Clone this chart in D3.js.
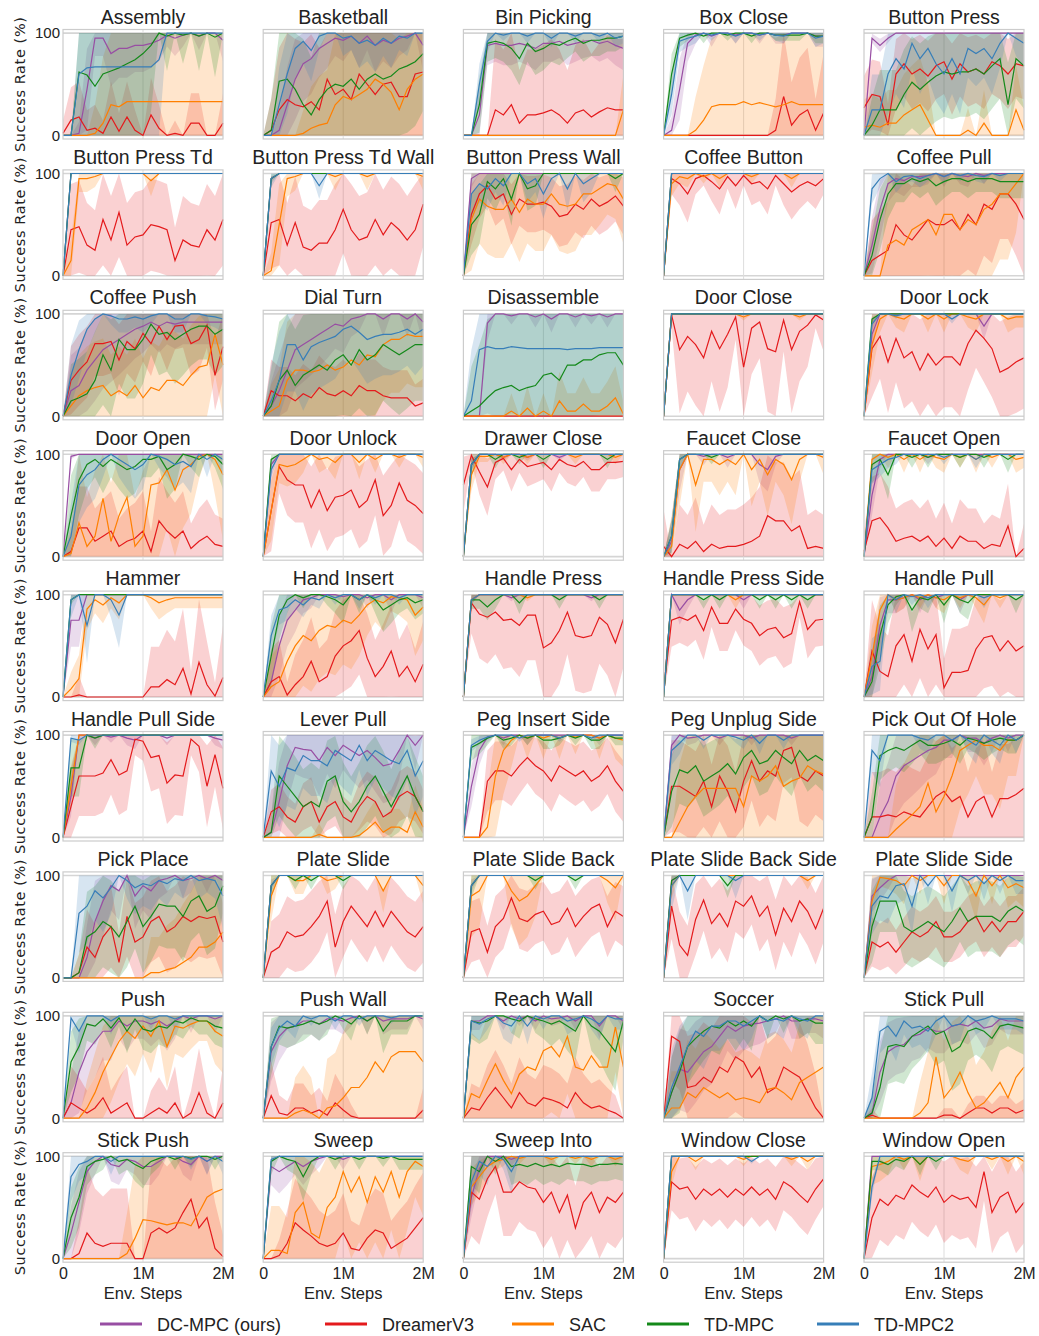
<!DOCTYPE html>
<html>
<head>
<meta charset="utf-8">
<script src="https://cdn.jsdelivr.net/npm/d3@7"></script>
<style>
  body { margin: 0; background: #fff; }
  svg text { font-family: "Liberation Sans", Arial, sans-serif; fill: #222; }
</style>
</head>
<body>
<svg id="chart" width="1039" height="1336"></svg>
<script>
// Meta-World success rates (%), evaluated every 100K env. steps (0 .. 2M)
const tasks = ["Assembly", "Basketball", "Bin Picking", "Box Close", "Button Press",
  "Button Press Td", "Button Press Td Wall", "Button Press Wall", "Coffee Button", "Coffee Pull",
  "Coffee Push", "Dial Turn", "Disassemble", "Door Close", "Door Lock",
  "Door Open", "Door Unlock", "Drawer Close", "Faucet Close", "Faucet Open",
  "Hammer", "Hand Insert", "Handle Press", "Handle Press Side", "Handle Pull",
  "Handle Pull Side", "Lever Pull", "Peg Insert Side", "Peg Unplug Side", "Pick Out Of Hole",
  "Pick Place", "Plate Slide", "Plate Slide Back", "Plate Slide Back Side", "Plate Slide Side",
  "Push", "Push Wall", "Reach Wall", "Soccer", "Stick Pull",
  "Stick Push", "Sweep", "Sweep Into", "Window Close", "Window Open"];

const stepsM = [0, 0.1, 0.2, 0.3, 0.4, 0.5, 0.6, 0.7, 0.8, 0.9, 1.0, 1.1, 1.2, 1.3, 1.4, 1.5, 1.6, 1.7, 1.8, 1.9, 2.0];

const dcmpc = [
  [0,0,2,45,95,95,80,85,85,88,88,90,93,98,95,98,100,97,100,100,93],
  [0,0,5,30,55,70,75,85,90,95,93,97,90,97,88,93,90,95,97,100,88],
  [0,0,20,88,90,88,88,90,88,85,90,90,92,88,90,92,93,90,92,88,85],
  [0,5,45,90,98,100,97,100,100,98,100,100,98,100,98,98,100,100,100,97,97],
  [0,95,88,95,100,100,100,100,100,100,100,100,100,100,100,100,100,100,100,100,100],
  [0,100,100,100,100,100,100,100,100,100,100,100,100,100,100,100,100,100,100,100,100],
  [0,95,100,100,100,100,100,100,100,100,100,100,100,100,100,100,100,100,100,100,100],
  [0,95,100,100,100,100,100,100,100,100,100,100,100,100,100,100,100,100,100,100,100],
  [0,100,100,100,100,100,100,100,100,100,100,100,100,100,100,100,100,100,100,100,100],
  [0,30,65,90,95,93,97,97,98,100,97,100,98,97,100,98,100,100,100,100,100],
  [0,25,30,45,55,65,70,75,80,85,88,92,88,92,90,92,92,92,92,92,92],
  [0,10,25,45,65,70,75,80,85,90,88,95,97,100,100,95,100,100,95,100,92],
  [0,0,0,91,100,100,98,100,100,97,100,95,100,100,97,100,98,100,97,100,100],
  [0,100,100,100,100,100,100,100,100,100,100,100,100,100,100,100,100,100,100,100,100],
  [0,80,100,100,100,100,100,100,100,100,100,100,100,100,100,88,100,100,100,100,100],
  [0,98,100,100,100,100,100,100,100,100,100,100,100,100,100,100,100,100,100,100,100],
  [0,90,100,100,100,100,100,100,100,100,100,100,100,100,100,100,100,100,100,100,100],
  [0,90,100,100,100,97,100,100,97,100,100,100,97,100,100,100,100,100,100,100,100],
  [0,15,85,100,100,98,100,100,97,100,100,100,90,85,98,100,100,100,100,100,100],
  [0,60,95,100,100,100,100,100,97,100,100,100,100,100,100,100,100,100,100,100,100],
  [0,75,75,100,100,100,100,100,100,100,100,100,100,100,100,100,100,100,100,100,100],
  [0,15,50,75,85,95,97,100,100,100,98,100,100,97,100,100,95,100,100,100,97],
  [0,95,100,100,100,100,97,100,100,100,100,100,100,100,100,100,97,100,100,100,100],
  [0,100,85,95,100,100,100,100,100,100,95,100,100,100,100,100,100,100,100,100,100],
  [0,20,70,95,95,97,100,95,100,97,100,100,95,100,100,100,100,100,100,100,100],
  [0,40,100,100,97,100,98,100,97,95,100,100,100,97,100,100,100,100,100,97,95],
  [0,5,35,70,88,86,85,75,88,80,90,85,80,85,78,70,72,85,100,90,100],
  [0,50,85,98,100,97,100,100,97,100,100,100,100,100,100,100,100,97,100,100,100],
  [0,90,100,97,98,100,100,97,100,100,100,97,100,100,100,100,97,100,100,100,100],
  [0,0,20,35,60,70,75,80,85,88,95,95,100,97,97,92,97,100,97,100,100],
  [0,0,0,20,55,75,90,85,100,80,90,85,95,97,100,95,97,100,97,100,95],
  [0,90,100,100,100,100,100,100,100,100,100,100,100,100,100,100,100,100,100,100,100],
  [0,90,100,100,100,100,100,100,100,100,100,100,100,100,100,100,100,100,100,100,100],
  [0,95,100,100,100,100,100,100,100,100,100,100,100,100,100,100,100,100,100,100,100],
  [0,80,88,95,100,100,100,100,100,100,100,100,100,100,100,100,100,100,100,100,100],
  [0,15,45,65,75,85,85,95,90,95,95,92,95,90,95,100,97,100,100,97,100],
  [0,65,80,88,90,95,95,92,97,97,95,98,100,95,100,95,97,97,97,100,97],
  [0,95,95,100,100,95,100,97,100,95,100,97,98,100,95,100,100,90,100,100,95],
  [0,25,48,45,55,65,70,80,90,85,90,92,93,95,97,100,95,95,97,97,95],
  [0,5,45,65,70,72,80,82,88,85,85,90,92,90,95,88,90,97,95,95,95],
  [0,25,55,85,95,100,92,90,97,95,90,90,95,100,100,95,92,100,95,100,100],
  [0,90,85,90,95,90,95,98,100,100,97,100,100,100,100,100,100,100,100,100,100],
  [0,60,88,100,100,100,97,100,100,100,100,100,100,100,100,100,100,100,100,100,100],
  [0,100,100,100,100,100,100,100,100,100,100,100,100,100,100,100,100,100,100,100,100],
  [0,100,100,100,100,100,100,100,100,100,100,100,100,100,100,100,100,100,100,100,100]
];

const dreamer = [
  [2,15,18,5,7,2,18,4,18,5,0,20,7,0,2,0,12,12,0,0,12],
  [0,5,25,35,30,28,33,25,55,40,45,35,60,50,40,50,52,38,38,60,62],
  [0,0,0,0,25,20,30,12,20,20,22,25,20,12,22,25,18,23,27,25,25],
  [0,0,0,0,0,0,0,0,0,0,0,0,0,0,5,38,10,20,25,5,22],
  [27,40,38,10,60,70,60,65,58,68,72,55,70,62,65,60,72,68,60,70,68],
  [0,45,48,30,25,55,35,62,30,38,40,50,48,45,15,35,30,28,45,35,55],
  [0,52,55,30,52,28,25,32,32,45,65,45,35,38,55,40,52,45,35,45,70],
  [0,60,80,88,75,80,60,75,70,70,72,68,58,60,70,65,75,68,72,78,68],
  [0,95,90,80,95,98,92,85,97,88,98,90,92,85,98,90,82,88,92,88,95],
  [0,15,20,25,50,40,35,45,55,50,50,55,45,60,50,70,65,80,80,70,55],
  [0,35,45,53,71,71,73,55,73,66,81,71,88,75,88,89,71,75,89,40,68],
  [0,25,20,20,15,22,18,28,22,20,25,20,30,25,25,20,18,18,18,10,13],
  [0,0,0,0,0,0,0,0,0,0,0,0,0,0,0,0,0,0,0,0,0],
  [0,99,65,78,70,57,83,66,80,97,48,86,92,66,63,94,65,83,89,99,94],
  [0,66,78,53,76,57,63,45,61,50,58,58,50,71,84,76,66,43,47,53,57],
  [0,5,28,28,15,20,25,10,15,18,25,5,35,25,18,25,8,15,20,12,10],
  [0,45,88,75,70,70,48,65,45,58,60,65,48,55,75,40,50,72,55,50,42],
  [70,99,83,68,92,96,85,95,88,90,92,85,95,90,88,93,85,85,92,92,93],
  [10,0,12,8,15,5,12,8,10,10,12,15,20,40,35,35,25,30,8,10,8],
  [5,35,38,28,15,18,20,15,20,10,18,8,20,15,15,8,12,10,30,0,8],
  [0,0,2,0,0,0,0,0,0,0,0,10,10,17,12,28,3,34,12,1,19],
  [0,15,20,2,12,20,35,15,20,40,50,55,65,38,20,30,45,20,30,15,32],
  [0,92,81,78,83,75,76,70,80,80,48,53,65,83,60,58,60,78,71,53,76],
  [5,75,78,75,80,65,88,72,72,86,76,72,60,66,68,58,62,93,66,75,76],
  [0,45,25,20,50,61,35,66,47,61,9,24,24,26,47,58,60,45,55,45,50],
  [0,30,60,60,60,63,76,61,65,96,94,78,80,53,61,60,96,89,50,81,48],
  [0,25,30,20,15,30,35,15,30,35,20,15,30,40,35,20,25,40,45,40,25],
  [0,0,0,55,65,65,60,70,78,70,65,55,70,65,60,65,55,60,70,55,45],
  [0,50,50,45,40,55,30,60,45,25,55,75,55,65,60,85,88,60,55,65,60],
  [0,20,20,22,20,25,22,20,30,40,45,35,40,20,35,40,20,38,38,42,48],
  [0,0,5,30,20,40,50,15,60,35,40,55,60,45,50,60,55,60,58,60,35],
  [0,25,30,45,40,42,50,60,75,30,55,70,60,50,65,50,65,55,45,40,50],
  [0,45,48,25,50,58,78,58,55,62,65,52,55,68,50,60,68,72,50,65,60],
  [0,70,32,22,57,76,53,63,50,75,70,80,60,70,42,68,55,75,65,48,68],
  [0,35,30,35,25,35,45,40,45,55,40,40,45,55,60,45,55,45,55,55,65],
  [0,15,10,5,10,20,5,10,15,0,0,5,10,5,15,0,5,25,5,0,15],
  [0,22,5,3,10,10,5,8,3,15,8,2,0,0,0,0,0,0,0,0,8],
  [0,10,8,20,30,20,10,25,15,12,20,18,15,10,25,15,10,12,8,5,0],
  [0,80,75,30,32,40,35,50,45,60,55,40,50,25,30,50,45,40,25,10,0],
  [0,3,0,0,0,0,0,0,0,0,3,3,0,5,10,10,5,10,10,5,8],
  [0,0,5,25,15,12,15,15,15,0,0,25,30,25,30,45,58,30,40,10,2],
  [0,0,3,15,35,28,22,15,12,15,25,10,8,20,28,25,10,15,20,30,40],
  [0,65,58,78,90,65,65,75,70,68,55,65,45,62,30,55,65,45,60,55,65],
  [0,75,68,70,58,68,62,68,60,68,62,70,62,68,58,75,70,62,55,68,78],
  [0,40,58,52,62,58,72,65,60,70,55,62,58,60,50,85,45,60,65,45,55]
];

const sac = [
  [0,0,0,0,2,12,30,28,33,33,33,33,33,33,33,33,33,33,33,33,33],
  [0,0,0,0,0,2,7,10,12,30,38,35,40,45,55,50,42,25,45,55,60],
  [0,0,0,0,0,0,0,0,0,0,0,0,0,0,0,0,0,0,0,0,25],
  [0,0,0,0,5,15,28,30,30,30,33,30,32,30,28,30,33,30,30,30,30],
  [8,10,8,12,12,20,25,30,15,0,0,0,0,5,0,12,0,0,0,25,5],
  [0,15,95,95,97,100,100,100,100,100,100,93,100,100,100,100,100,100,100,100,100],
  [0,5,50,95,97,100,100,100,100,97,100,100,100,97,100,100,100,100,100,100,97],
  [0,55,75,68,65,65,75,62,75,70,70,80,70,68,70,80,80,85,90,88,75],
  [0,90,97,95,100,97,100,95,100,100,100,97,100,100,100,100,95,100,100,100,100],
  [0,0,0,30,35,30,45,50,55,40,60,60,45,55,50,65,70,80,80,90,100],
  [0,10,20,25,28,30,20,25,20,30,18,28,25,35,35,30,40,48,50,80,50],
  [0,5,10,35,45,45,43,45,50,45,48,55,50,60,58,70,75,75,80,78,78],
  [0,0,0,0,0,0,5,0,8,0,5,0,15,5,5,12,5,5,10,18,2],
  [0,100,100,100,100,100,100,100,100,100,97,100,100,100,100,100,100,97,100,100,100],
  [0,70,95,100,97,95,100,100,95,100,95,100,100,97,95,100,100,100,95,97,97],
  [0,3,33,10,20,57,15,40,58,10,20,70,72,85,65,85,90,98,100,95,80],
  [0,45,90,88,90,95,100,95,97,92,100,100,92,100,95,100,100,97,100,100,97],
  [0,80,98,98,100,97,100,100,97,100,100,100,100,100,97,100,100,100,100,97,100],
  [0,10,85,100,70,95,95,90,95,90,100,85,95,80,95,90,75,95,100,100,97],
  [0,95,100,97,100,95,100,95,100,97,95,100,97,100,95,100,97,100,100,95,97],
  [0,8,18,86,95,90,97,92,100,100,100,97,92,95,97,97,97,97,97,97,97],
  [0,10,15,35,50,60,55,65,70,68,75,72,80,90,95,92,98,97,95,80,88],
  [0,95,100,100,100,100,100,100,97,100,100,100,100,100,100,100,100,100,100,100,100],
  [0,100,100,100,100,100,100,100,100,95,100,100,100,100,100,100,100,100,100,100,100],
  [0,40,85,100,95,97,100,97,100,97,95,100,97,100,97,90,100,97,100,100,100],
  [0,50,100,100,100,100,100,100,100,100,100,100,100,100,100,100,100,100,100,100,100],
  [0,0,0,0,0,0,0,3,0,0,0,0,2,8,15,5,10,10,5,25,10],
  [0,0,0,10,60,85,95,100,97,100,97,100,97,100,98,100,100,97,100,97,95],
  [0,0,15,30,40,48,48,48,48,48,30,60,55,60,70,50,55,58,70,65,62],
  [0,0,0,0,8,15,22,30,53,25,40,60,85,90,95,90,90,85,95,95,100],
  [0,0,0,0,0,0,0,0,0,0,0,5,5,8,10,15,20,30,30,35,45],
  [0,80,100,100,95,95,100,100,95,97,100,100,100,100,100,85,100,100,100,100,90],
  [0,80,85,100,100,100,85,75,80,90,100,100,100,100,100,100,100,100,95,88,100],
  [0,90,100,100,100,100,100,100,100,100,100,100,100,100,100,100,100,100,95,100,100],
  [0,75,98,97,95,90,100,95,100,100,90,100,100,95,80,100,90,100,88,92,88],
  [0,0,0,10,25,45,60,75,85,78,90,80,95,70,90,88,92,95,95,85,80],
  [0,0,0,0,5,8,5,0,10,12,20,30,30,40,55,45,60,65,65,65,55],
  [0,24,20,37,53,37,24,43,50,47,66,70,60,80,50,47,61,50,50,89,50],
  [0,10,10,25,20,30,25,20,25,18,20,18,15,28,30,25,18,35,40,45,50],
  [0,0,0,0,0,0,0,5,15,60,20,30,45,25,10,15,25,35,20,40,50],
  [0,0,0,0,0,0,0,0,5,20,38,37,35,33,35,35,32,45,60,65,68],
  [0,8,8,5,45,55,25,20,50,60,85,65,80,55,80,65,85,60,85,95,90],
  [0,70,80,90,95,97,100,98,100,100,100,97,100,100,98,100,97,100,100,97,100],
  [0,85,100,100,95,100,100,100,100,100,97,100,100,100,100,100,97,100,95,100,100],
  [0,90,92,95,100,97,100,92,100,100,100,100,97,95,100,100,97,100,95,100,95]
];

const tdmpc = [
  [0,0,62,59,48,60,63,66,70,74,80,88,100,97,100,98,100,97,100,96,100],
  [0,5,53,55,45,30,20,35,45,50,48,55,45,55,60,55,58,65,68,72,80],
  [0,0,30,90,92,90,85,75,90,82,85,90,88,92,95,90,93,93,95,95,97],
  [0,60,95,98,100,97,100,100,98,100,100,97,100,100,98,98,98,98,100,97,97],
  [0,10,25,25,25,40,52,45,52,58,62,60,62,62,65,60,68,75,30,75,68],
  [0,100,100,100,100,100,100,100,100,100,100,100,100,100,100,100,100,100,100,100,100],
  [0,95,100,100,100,100,100,100,100,100,100,100,100,100,100,100,100,100,100,100,100],
  [0,50,60,92,85,95,75,100,85,88,100,100,100,100,100,100,100,100,100,95,100],
  [0,100,100,100,100,100,100,100,100,100,100,100,100,100,100,100,100,100,100,100,100],
  [0,20,55,80,90,90,95,92,95,88,92,95,95,92,95,95,95,92,92,92,92],
  [0,15,18,22,35,60,45,75,65,65,75,90,80,82,75,80,85,88,88,80,85],
  [0,10,35,45,30,40,45,50,45,55,60,50,65,55,60,70,65,60,65,70,70],
  [0,5,10,18,25,28,30,25,28,30,40,42,35,50,50,55,55,60,62,62,50],
  [0,100,100,100,100,100,100,100,100,100,100,100,100,100,100,100,100,100,100,100,100],
  [0,95,100,100,100,100,100,100,100,100,100,100,100,100,100,100,100,100,100,100,100],
  [0,40,75,90,95,88,95,90,85,88,95,95,98,85,90,100,98,95,100,98,90],
  [0,95,100,100,100,100,100,100,100,100,100,100,100,100,100,100,100,100,100,100,100],
  [0,90,100,100,95,100,100,97,100,100,95,100,100,100,100,100,100,100,95,100,100],
  [0,20,95,100,100,100,97,100,100,100,100,100,100,100,100,100,100,100,100,100,100],
  [0,90,95,80,100,100,97,100,97,100,100,100,97,100,100,97,100,100,95,100,100],
  [0,95,100,100,100,100,100,100,100,100,100,100,100,100,100,100,100,100,100,100,100],
  [0,40,80,95,100,97,100,100,98,95,90,100,95,100,95,85,90,95,97,92,95],
  [0,95,95,88,95,100,100,92,100,100,100,100,95,100,100,100,100,95,100,100,100],
  [0,100,100,100,100,95,100,95,100,100,100,100,95,100,95,100,95,100,95,100,100],
  [0,15,60,90,98,100,85,97,95,100,90,100,95,92,100,100,100,100,100,95,100],
  [0,68,68,100,97,100,100,100,100,100,100,100,100,100,100,100,100,100,100,100,100],
  [0,5,60,50,40,30,35,30,55,60,35,25,35,50,60,45,30,45,60,40,25],
  [0,88,92,97,100,95,97,100,97,100,95,95,97,100,97,100,95,95,100,97,97],
  [0,45,66,63,70,55,60,65,72,62,78,85,72,75,85,78,72,85,75,80,75],
  [0,20,80,85,88,85,90,95,90,90,92,95,90,97,95,92,95,97,95,95,100],
  [0,0,5,40,45,55,50,40,55,70,50,60,72,70,70,60,75,80,65,70,90],
  [0,90,100,100,95,100,95,100,100,100,95,100,100,100,100,100,100,100,100,100,100],
  [0,90,100,100,100,100,100,100,100,95,100,100,100,100,95,100,100,100,100,100,100],
  [0,95,100,100,100,100,100,100,90,100,100,100,100,100,100,100,100,100,100,100,100],
  [0,50,75,75,75,50,45,50,55,50,45,55,68,55,60,60,60,55,65,70,65],
  [0,55,70,92,90,97,88,98,85,97,87,85,90,88,95,93,98,95,95,90,88],
  [0,70,90,88,90,92,95,92,95,100,97,92,100,95,100,85,95,95,95,100,100],
  [0,95,93,95,100,100,97,95,100,97,95,92,95,90,85,100,90,85,75,65,95],
  [0,25,45,70,78,85,90,88,95,90,95,90,100,95,100,97,100,95,97,93,93],
  [0,5,30,70,72,70,80,85,90,82,85,65,70,85,88,85,78,90,92,90,88],
  [0,40,60,90,95,97,100,95,97,92,88,95,98,100,97,100,98,100,100,97,100],
  [0,95,100,97,95,80,95,100,100,97,100,100,97,100,100,98,100,97,97,97,97],
  [0,90,85,100,95,100,90,92,90,93,90,92,90,93,92,92,90,92,92,93,92],
  [0,100,100,100,100,100,100,100,100,100,100,100,100,100,100,100,100,100,100,100,100],
  [0,95,95,92,97,95,100,92,100,95,100,100,100,100,100,100,100,100,100,100,100]
];

const tdmpc2 = [
  [0,0,60,66,67,67,67,67,67,67,67,67,74,100,100,100,100,100,100,100,100],
  [0,0,30,60,85,92,83,97,100,100,95,97,90,93,88,95,90,97,95,100,100],
  [0,0,50,92,100,98,100,100,97,100,100,95,100,100,97,100,100,97,100,95,97],
  [0,40,92,95,97,100,98,100,100,97,100,100,98,100,98,97,100,100,100,95,97],
  [0,25,25,60,75,65,90,75,85,70,60,75,60,85,80,85,75,90,100,95,90],
  [0,100,100,100,100,100,100,100,100,100,100,100,100,100,100,100,100,100,100,100,100],
  [0,95,100,100,100,100,100,88,100,100,100,100,100,100,100,100,100,100,100,100,100],
  [0,80,90,85,95,88,100,100,90,95,80,95,100,85,100,90,95,100,100,100,100],
  [0,100,100,100,100,100,100,100,100,100,100,100,100,100,100,100,100,100,100,100,100],
  [0,85,95,100,92,97,98,95,98,100,97,100,98,100,98,97,100,98,100,100,100],
  [0,40,65,85,95,100,98,95,95,97,95,98,100,100,95,95,100,100,98,97,95],
  [0,15,35,70,70,55,68,72,75,78,85,88,82,75,78,80,80,82,85,80,85],
  [0,15,65,68,66,66,68,67,66,66,66,66,66,65,66,66,66,67,67,67,67],
  [0,100,100,100,100,100,100,100,100,100,100,100,100,100,100,100,100,100,100,100,100],
  [0,90,100,100,98,100,100,100,100,100,100,95,100,100,100,100,100,100,100,100,100],
  [0,20,70,80,85,95,100,95,90,85,90,100,98,95,90,93,88,100,95,100,95],
  [0,85,100,100,100,100,100,100,100,100,100,100,100,100,100,100,100,100,100,100,100],
  [0,90,100,100,100,100,100,100,100,100,100,100,100,100,100,100,100,100,100,100,100],
  [0,20,95,100,100,100,100,100,100,100,100,100,100,100,100,100,100,100,100,100,100],
  [0,85,90,95,97,100,100,100,100,100,97,100,100,100,95,100,100,100,100,100,100],
  [0,95,100,70,100,100,95,80,100,100,100,100,100,100,100,100,100,100,100,100,100],
  [0,60,85,88,95,90,97,95,100,97,100,100,95,100,97,100,100,97,100,100,100],
  [0,95,100,100,100,100,100,100,100,100,100,100,100,100,100,100,100,100,100,100,100],
  [0,100,100,100,100,100,100,100,100,100,100,100,100,100,100,100,100,100,100,100,100],
  [0,30,35,100,95,100,98,100,97,100,100,100,100,100,100,97,100,100,100,100,100],
  [0,97,95,100,100,100,100,100,100,100,100,100,100,100,100,100,100,100,100,100,100],
  [0,65,50,68,65,80,75,75,70,85,80,75,90,75,85,80,75,72,85,60,75],
  [0,90,95,98,100,100,100,97,100,100,100,100,97,100,100,100,97,100,100,100,100],
  [0,85,92,100,100,95,100,100,100,98,95,100,92,100,100,95,100,100,100,100,100],
  [0,85,75,100,100,100,100,97,95,100,100,95,100,95,90,100,95,90,100,95,100],
  [0,0,63,70,85,78,88,100,95,88,92,90,95,92,97,95,100,95,97,95,80],
  [0,90,100,100,100,100,100,100,100,100,100,100,100,100,100,100,100,100,100,100,100],
  [0,90,100,100,100,100,100,100,100,100,100,100,100,100,100,100,100,100,100,100,100],
  [0,90,100,85,100,100,100,100,100,95,100,100,100,100,100,100,100,100,100,100,100],
  [0,70,80,78,90,92,70,100,90,100,100,85,100,95,100,92,100,95,100,95,95],
  [0,98,85,100,100,100,95,100,100,100,100,97,100,100,97,100,100,100,100,100,100],
  [0,70,88,95,90,100,97,100,100,95,100,100,97,100,100,100,98,100,100,100,100],
  [0,95,92,97,100,93,90,100,90,100,97,100,100,95,97,100,97,92,100,97,97],
  [0,30,50,70,85,80,90,90,95,95,90,95,100,95,97,95,100,97,95,100,100],
  [0,20,85,90,80,95,88,90,85,95,100,90,92,100,95,97,100,97,97,97,95],
  [0,80,92,95,100,100,95,100,100,100,100,100,100,100,100,100,97,100,95,100,95],
  [0,97,100,100,100,100,100,100,100,100,100,100,100,100,100,100,100,100,100,100,100],
  [0,75,95,90,100,97,85,100,100,100,100,100,100,100,100,100,100,100,100,100,100],
  [0,100,100,100,100,100,100,100,100,100,100,95,100,100,100,100,100,100,100,100,100],
  [0,70,100,100,100,100,100,100,100,100,100,100,100,100,100,100,100,100,100,100,100]
];

// spread of the shaded band (across seeds), one value per task
const dcmpcSpread  = [40,40,30,30,10,5,5,20,5,30,40,40,30,5,20,10,10,10,30,20,30,30,10,20,30,20,40,20,20,40,40,10,10,10,20,40,30,20,40,30,30,30,20,5,10];
const dreamerSpread = [45,70,80,70,35,45,45,30,35,55,35,35,0,65,50,45,40,30,60,45,65,45,55,30,50,40,25,30,45,55,40,35,30,35,25,50,40,40,55,20,75,45,45,32,40];
const sacSpread    = [100,80,40,75,50,30,40,50,20,80,50,60,40,10,30,80,30,20,50,30,30,50,10,20,30,20,30,60,80,80,80,30,50,20,30,45,80,70,60,70,90,80,20,20,30];
const tdmpcSpread  = [100,70,30,20,45,5,10,30,5,30,50,60,100,5,10,40,10,20,20,30,10,30,20,20,30,30,40,20,35,30,45,20,20,20,35,30,30,40,40,40,30,30,30,5,20];
const tdmpc2Spread = [100,40,20,20,40,5,20,30,5,20,30,50,70,5,10,40,10,10,20,20,40,20,10,5,30,10,40,10,20,30,40,5,5,40,30,30,20,30,40,30,30,10,30,5,10];

const methods = [
  { name: "DC-MPC (ours)", color: "#984ea3", values: dcmpc, spread: dcmpcSpread },
  { name: "DreamerV3", color: "#e41a1c", values: dreamer, spread: dreamerSpread },
  { name: "SAC", color: "#ff7f00", values: sac, spread: sacSpread },
  { name: "TD-MPC", color: "#14891a", values: tdmpc, spread: tdmpcSpread },
  { name: "TD-MPC2", color: "#377eb8", values: tdmpc2, spread: tdmpc2Spread }
];

var svg = d3.select("#chart"),
  plotW = 160,
  frameH = 109.5,
  firstTop = 29.5,
  rowStep = 140.4,
  colLeft = [63, 263.2, 463.4, 663.6, 864];

tasks.forEach(function (task, k) {
  var r = Math.floor(k / 5), c = k % 5;
  var left = colLeft[c], top = firstTop + r * rowStep;

  var x = d3.scaleLinear().domain([0, 2]).range([left, left + plotW]);
  var y = d3.scaleLinear().domain([-3.5, 103.5]).range([top + frameH, top]);

  var g = svg.append("g").attr("class", "panel");

  // grid
  g.selectAll("line.hgrid")
    .data([0, 100])
    .enter().append("line")
    .attr("x1", x(0)).attr("x2", x(2))
    .attr("y1", function (d) { return y(d); })
    .attr("y2", function (d) { return y(d); })
    .attr("stroke", "#d5d5d5").attr("stroke-width", 1.6);
  g.append("line")
    .attr("x1", x(1)).attr("x2", x(1))
    .attr("y1", top).attr("y2", top + frameH)
    .attr("stroke", "#dddddd").attr("stroke-width", 1);

  // bands
  methods.forEach(function (m) {
    var vals = m.values[k], s = m.spread[k];
    var area = d3.area()
      .x(function (d, i) { return x(stepsM[i]); })
      .y0(function (d) { return y(Math.max(0, d - s * Math.sqrt(d * (100 - d)) / 50)); })
      .y1(function (d) { return y(Math.min(100, d + s * Math.sqrt(d * (100 - d)) / 50)); });
    g.append("path")
      .datum(vals)
      .attr("d", area)
      .attr("fill", m.color)
      .attr("fill-opacity", 0.2)
      .attr("stroke", "none");
  });

  // mean lines
  methods.forEach(function (m) {
    var line = d3.line()
      .x(function (d, i) { return x(stepsM[i]); })
      .y(function (d) { return y(d); });
    g.append("path")
      .datum(m.values[k])
      .attr("d", line)
      .attr("fill", "none")
      .attr("stroke", m.color)
      .attr("stroke-width", 1.2);
  });

  // frame
  g.append("rect")
    .attr("x", left).attr("y", top)
    .attr("width", plotW).attr("height", frameH)
    .attr("fill", "none").attr("stroke", "#cccccc").attr("stroke-width", 1.2);

  // title
  g.append("text")
    .attr("x", left + plotW / 2).attr("y", top - 6)
    .attr("text-anchor", "middle")
    .style("font-size", "19.5px")
    .text(task);

  if (c === 0) {
    var yAxis = g.append("g")
      .attr("transform", "translate(" + (left - 1) + ",0)")
      .call(d3.axisLeft(y).tickValues([0, 100]).tickSize(0).tickPadding(2));
    yAxis.select(".domain").remove();
    yAxis.selectAll("text").style("font-size", "15px").attr("fill", "#222");

    g.append("text")
      .attr("transform", "translate(25," + (top + frameH / 2) + ") rotate(-90)")
      .attr("text-anchor", "middle")
      .style("font-family", "'DejaVu Sans', sans-serif")
      .style("font-size", "14.5px")
      .style("letter-spacing", "0.6px")
      .text("Success Rate (%)");
  }

  if (r === 8) {
    var xAxis = g.append("g")
      .attr("transform", "translate(0," + (top + frameH) + ")")
      .call(d3.axisBottom(x).tickValues([0, 1, 2]).tickSize(0).tickPadding(5)
        .tickFormat(function (d) { return d === 0 ? "0" : d + "M"; }));
    xAxis.select(".domain").remove();
    xAxis.selectAll("text").style("font-size", "16px").attr("fill", "#222");

    g.append("text")
      .attr("x", left + plotW / 2).attr("y", top + frameH + 37)
      .attr("text-anchor", "middle")
      .style("font-size", "16.5px")
      .text("Env. Steps");
  }
});

// legend
var legendX = [100, 325, 512, 647, 817];
var legend = svg.append("g")
  .selectAll("g")
  .data(methods)
  .enter().append("g")
  .attr("transform", function (d, i) { return "translate(" + legendX[i] + ",1324)"; });
legend.append("line")
  .attr("x1", 0).attr("x2", 42)
  .attr("stroke", function (d) { return d.color; })
  .attr("stroke-width", 3);
legend.append("text")
  .attr("x", 57).attr("y", 6.5)
  .style("font-size", "18px")
  .text(function (d) { return d.name; });
</script>
</body>
</html>
